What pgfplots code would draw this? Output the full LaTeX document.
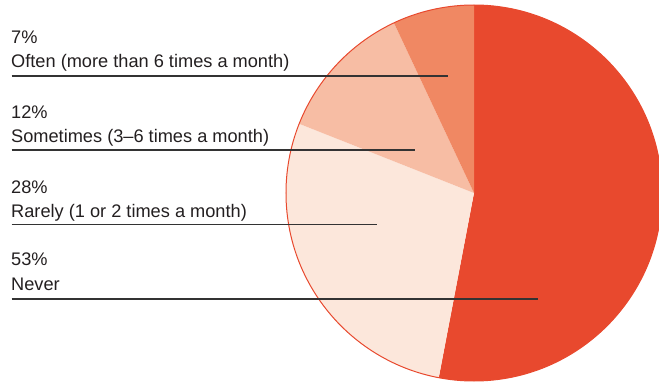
\documentclass[border=0pt]{standalone}
\usepackage{fontspec}
\setmainfont{Liberation Sans}
\usepackage{pgfplots}
\usepackage{pgfplotstable}
\pgfplotsset{compat=1.18}
\definecolor{cNever}{HTML}{E8492E}
\definecolor{cRarely}{HTML}{FCE7DB}
\definecolor{cSometimes}{HTML}{F7BDA4}
\definecolor{cOften}{HTML}{F08863}
\definecolor{txt}{HTML}{231F20}
\definecolor{lead}{HTML}{333333}
\pgfplotstableread{
value name
53 Never
28 Rarely
12 Sometimes
7 Often
}\piedata
\begin{document}
\pgfplotstablegetelem{0}{value}\of\piedata\edef\vA{\pgfplotsretval}%
\pgfplotstablegetelem{1}{value}\of\piedata\edef\vB{\pgfplotsretval}%
\pgfplotstablegetelem{2}{value}\of\piedata\edef\vC{\pgfplotsretval}%
\pgfplotstablegetelem{3}{value}\of\piedata\edef\vD{\pgfplotsretval}%
\pgfmathsetmacro\aA{90}%
\pgfmathsetmacro\aB{\aA-3.6*\vA}%
\pgfmathsetmacro\aC{\aB-3.6*\vB}%
\pgfmathsetmacro\aD{\aC-3.6*\vC}%
\pgfmathsetmacro\aE{\aD-3.6*\vD}%
\begin{tikzpicture}
\begin{axis}[at={(0,0)}, anchor=south west, x=1bp, y=1bp,
  xmin=0, xmax=659, ymin=0, ymax=382, hide axis, clip=false,
  disabledatascaling]
\fill[cNever] (axis cs:474,189) -- ++(\aA:188bp) arc[start angle=\aA, end angle=\aB, radius=188bp] -- cycle;
\fill[cRarely] (axis cs:474,189) -- ++(\aB:188bp) arc[start angle=\aB, end angle=\aC, radius=188bp] -- cycle;
\fill[cSometimes] (axis cs:474,189) -- ++(\aC:188bp) arc[start angle=\aC, end angle=\aD, radius=188bp] -- cycle;
\fill[cOften] (axis cs:474,189) -- ++(\aD:188bp) arc[start angle=\aD, end angle=\aE, radius=188bp] -- cycle;
\draw[cNever, line width=1bp] (axis cs:474,189) circle[radius=188bp];
\draw[lead, line width=1.3bp] (axis cs:11.5,306) -- (axis cs:447.5,306);
\draw[lead, line width=1.3bp] (axis cs:11.5,232) -- (axis cs:415,232);
\draw[lead, line width=1.3bp] (axis cs:11.5,157.5) -- (axis cs:377,157.5);
\draw[lead, line width=1.3bp] (axis cs:11.5,83) -- (axis cs:537.5,83);
\begin{scope}[every node/.style={anchor=base west, inner sep=0pt, text=txt, font=\fontsize{18.2bp}{22bp}\selectfont}]
\node at (axis cs:11,339) {\vD\%};
\node at (axis cs:11,315) {Often (more than 6 times a month)};
\node at (axis cs:11,264) {\vC\%};
\node at (axis cs:11,240) {Sometimes (3–6 times a month)};
\node at (axis cs:11,189) {\vB\%};
\node at (axis cs:11,165) {Rarely (1 or 2 times a month)};
\node at (axis cs:11,117) {\vA\%};
\node at (axis cs:11,91.5) {Never};
\end{scope}
\end{axis}
\pgfresetboundingbox
\useasboundingbox (0,0) rectangle (659bp,382bp);
\end{tikzpicture}
\end{document}
